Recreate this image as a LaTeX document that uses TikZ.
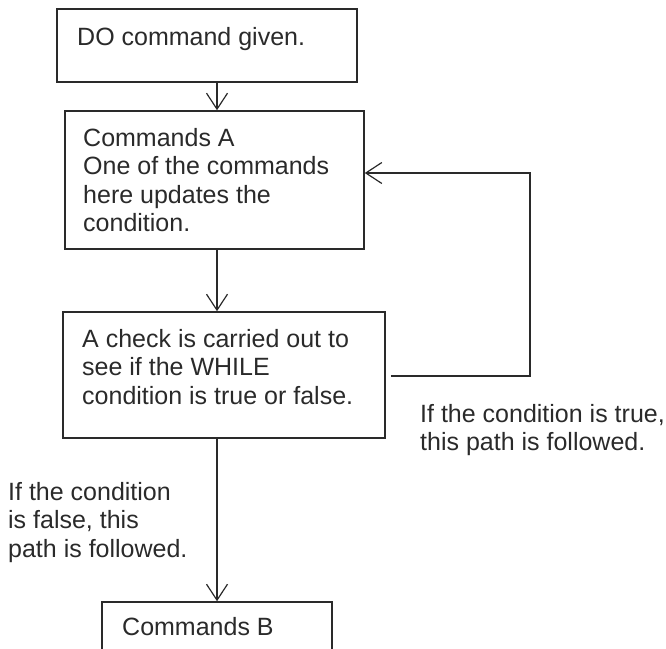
\documentclass[tikz,border=0pt]{standalone}
\usepackage{fontspec}
\setmainfont{Liberation Sans}
\usetikzlibrary{arrows.meta}
\definecolor{ink}{HTML}{2A2A2A}
\tikzset{
  box/.style={draw=ink, line width=1.5pt, fill=none, inner sep=0pt, rectangle},
  txt/.style={anchor=north west, inner sep=0pt, align=left, text=ink,
    font=\fontsize{25}{28.5}\selectfont},
  conn/.style={draw=ink, line width=1.5pt, -{Straight Barb[length=16pt,width=21pt,line width=1.2pt]}},
  plain/.style={draw=ink, line width=1.5pt}
}
\begin{document}
\begin{tikzpicture}[x=1pt,y=-1pt]
\useasboundingbox (0,0) rectangle (666,648);
\clip (0,0) rectangle (666,648);
% column of the main arrows
\coordinate (xcol) at (217,0);
% boxes
\node[box, minimum width=300pt, minimum height=73pt] (b1) at (207,45.5) {};
\node[box, minimum width=299pt, minimum height=138pt] (b2) at (214.5,180) {};
\node[box, minimum width=322pt, minimum height=126pt] (b3) at (224,375) {};
\node[box, minimum width=230pt, minimum height=68pt] (bB) at (217,636) {};
% texts
\node[txt] (t1) at (77,27) {DO command given.};
\node[txt] (t2) at (83,128) {Commands A\\One of the commands\\here updates the\\condition.};
\node[txt] (t3) at (82,329) {A check is carried out to\\see if the WHILE\\condition is true or false.};
\node[txt] (ttrue) at (420,404) {If the condition is true,\\this path is followed.};
\node[txt] (tfalse) at (8,482) {If the condition\\is false, this\\path is followed.};
\node[txt] (tB) at (122,617) {Commands B};
% connectors
\draw[conn] (b1.south -| xcol) -- (b2.north -| xcol);
\draw[conn] (b2.south -| xcol) -- (b3.north -| xcol);
\draw[conn] (b3.south -| xcol) -- (bB.north -| xcol);
\coordinate (lp1) at (530,376);
\coordinate (lp2) at (530,173);
\draw[conn] ([xshift=5pt]b3.east |- lp1) -- (lp1) -- (lp2) -- (b2.east |- lp2);
\end{tikzpicture}
\end{document}
